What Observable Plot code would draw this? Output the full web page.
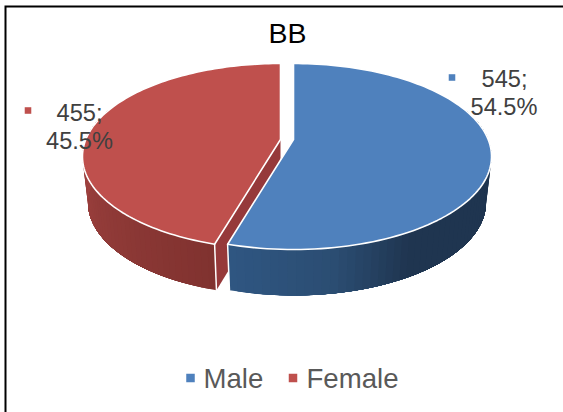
<!DOCTYPE html>
<html>
<head>
<meta charset="utf-8">
<style>html,body{margin:0;padding:0;background:#fff}svg{display:block}</style>
<script src="https://cdn.jsdelivr.net/npm/d3@7"></script>
<script src="https://cdn.jsdelivr.net/npm/@observablehq/plot@0.6"></script>
</head>
<body>
<div id="chart"></div>
<script>
const title = "BB";
const categories = ["Male", "Female"];
const counts = [545, 455];
const shares = ["54.5%", "45.5%"];
const topColors = ["#4f81bd", "#bf504d"];

const total = d3.sum(counts);
const cx = 293, cy = 139, R = 194.7, b = 89.9, k = 0.1828, depth = 46, shrink = 0.972, explode = 13;
const rad = a => a * Math.PI / 180;
function project(a, dx = 0, lower = false) {
  const X = Math.sin(rad(a)), Z = -Math.cos(rad(a)), s = 1 / (1 - k * Z);
  const f = lower ? shrink : 1;
  return {x: cx + dx + R * X * s * f, y: cy + b * Z * s + (lower ? depth : 0)};
}
const split = 360 * counts[0] / total;
const range = (a0, a1, n) => d3.range(n + 1).map(i => a0 + (a1 - a0) * i / n);

function sector(a0, a1, dx, name) {
  const arc = range(a0, a1, 120).map(a => project(a, dx));
  const apex = {x: cx + dx, y: cy};
  return [apex, ...arc, apex].map(p => ({...p, name}));
}
const blueTop = sector(0, split, 0, categories[0]);
const redTop = sector(split, 360, -explode, categories[1]);

// Each side strip reaches to the far end of the wall and the next strip paints over it, so no seams show.
function strips(a0, a1, dx, color, n, from) {
  const out = [];
  const steps = range(a0, a1, n).slice(0, -1);
  (from === "end" ? steps.reverse() : steps).forEach((a, i) => {
    const a2 = a + (a1 - a0) / n;
    const c = color((a + a2) / 2);
    const arc = from === "end" ? range(a0, a2, 24) : range(a, a1, 24);
    const top = arc.map(t => project(t, dx));
    const low = arc.map(t => project(t, dx, true)).reverse();
    [...top, ...low].forEach(p => out.push({...p, strip: i, c}));
  });
  return out;
}
const blueShade = d3.scaleLinear().domain([196, 170, 150, 60]).range(["#2f5682", "#2b4d72", "#1f3550", "#1f3550"]).clamp(true);
const redShade = d3.scaleLinear().domain([196.2, 290]).range(["#80322f", "#a94745"]).clamp(true);
const blueSide = strips(70, split, 0, blueShade, 60, "end");
const redSide = strips(split, 290, -explode, redShade, 50, "start");

const tip = project(split, -explode), tipLow = project(split, -explode, true);
const wall = [{x: cx - explode, y: cy}, {x: cx - explode, y: cy + depth}, tipLow, tip, {x: cx - explode, y: cy}];
const redEdge = [tip, tipLow];
const blueLeft = [project(split), project(split, 0, true)];

const frame = [{x1: 5.5, y1: 6.5, x2: 600, y2: 450}];
const ink = {fontFamily: "Liberation Sans, Arial, sans-serif", textAnchor: "middle", lineAnchor: "bottom"};

const chart = Plot.plot({
  width: 563, height: 412, margin: 0,
  x: {domain: [0, 563], range: [0, 563], axis: null},
  y: {domain: [0, 412], range: [0, 412], axis: null},
  color: {type: "identity"},
  marks: [
    Plot.rect(frame, {x1: "x1", x2: "x2", y1: "y1", y2: "y2", fill: "#fff", stroke: "#000", strokeWidth: 2}),
    Plot.line(wall, {x: "x", y: "y", fill: "#96393a", stroke: "none", curve: "linear"}),
    Plot.line(redSide, {x: "x", y: "y", z: "strip", fill: "c", stroke: "none", curve: "linear"}),
    Plot.line(redEdge, {x: "x", y: "y", stroke: "#fff", strokeWidth: 1.5, curve: "linear"}),
    Plot.line(blueSide, {x: "x", y: "y", z: "strip", fill: "c", stroke: "none", curve: "linear"}),
    Plot.line(blueLeft, {x: "x", y: "y", stroke: "#fff", strokeWidth: 1.5, curve: "linear"}),
    Plot.line(redTop, {x: "x", y: "y", fill: topColors[1], stroke: "#fff", strokeWidth: 1.6, curve: "linear"}),
    Plot.line(blueTop, {x: "x", y: "y", fill: topColors[0], stroke: "#fff", strokeWidth: 1.6, curve: "linear"}),

    Plot.text([title], {x: 287, y: 42.5, text: d => d, fontSize: 28.5, fill: "#000", ...ink}),

    Plot.dot([0], {x: 451.5, y: 77, r: 3.7, symbol: "square", fill: topColors[0]}),
    Plot.text([`${counts[0]};`], {x: 504, y: 86, text: d => d, fontSize: 23.6, fill: "#404040", ...ink}),
    Plot.text([shares[0]], {x: 503.5, y: 114, text: d => d, fontSize: 23.6, fill: "#404040", ...ink}),
    Plot.dot([0], {x: 27.5, y: 110, r: 3.7, symbol: "square", fill: topColors[1]}),
    Plot.text([`${counts[1]};`], {x: 79, y: 120, text: d => d, fontSize: 23.6, fill: "#404040", ...ink}),
    Plot.text([shares[1]], {x: 79, y: 148, text: d => d, fontSize: 23.6, fill: "#404040", ...ink}),

    Plot.dot([0], {x: 190, y: 377.5, r: 4.8, symbol: "square", fill: topColors[0]}),
    Plot.text([categories[0]], {x: 203, y: 387, text: d => d, fontSize: 27.6, fill: "#595959", ...ink, textAnchor: "start"}),
    Plot.dot([0], {x: 292.5, y: 377.5, r: 4.8, symbol: "square", fill: topColors[1]}),
    Plot.text([categories[1]], {x: 306, y: 387, text: d => d, fontSize: 27.6, fill: "#595959", ...ink, textAnchor: "start"})
  ]
});
document.getElementById("chart").append(chart);
</script>
</body>
</html>
